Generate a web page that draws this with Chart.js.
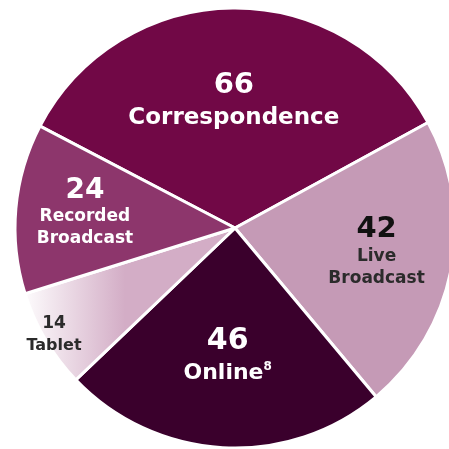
<!DOCTYPE html>
<html>
<head>
<meta charset="utf-8">
<script src="https://cdn.jsdelivr.net/npm/chart.js@4/dist/chart.umd.min.js"></script>
<style>
  html, body { margin: 0; padding: 0; background: #ffffff; }
  #wrap { width: 449px; height: 449px; }
</style>
</head>
<body>
<div id="wrap"><canvas id="pie" width="449" height="449"></canvas></div>
<script>
// Delivery channels and their counts
const categories = ['Correspondence', 'Live Broadcast', 'Online', 'Tablet', 'Recorded Broadcast'];
const counts = [66, 42, 46, 14, 24];
// Label text drawn on each slice (name split over lines, optional footnote mark)
const nameLines = [['Correspondence'], ['Live', 'Broadcast'], ['Online'], ['Tablet'], ['Recorded', 'Broadcast']];
const footnotes = ['', '', '8', '', ''];

const sliceColors = ['#710846', '#c59ab6', '#3a002c', null, '#8d366c'];

const FAMILY = '"DejaVu Sans"';
// Per-slice label styling: distance from centre (fraction of radius), fonts, colours, line offsets
const labelStyle = [
  { dist: 0.575, numFont: `bold 29px ${FAMILY}`, nameFont: `bold 23px ${FAMILY}`, numColor: '#ffffff', nameColor: '#ffffff', offsets: [-16, 17] },
  { dist: 0.655, numFont: `bold 29px ${FAMILY}`, nameFont: `bold 17px ${FAMILY}`, numColor: '#111111', nameColor: '#2b2b2b', offsets: [-25, 2, 24] },
  { dist: 0.59,  numFont: `bold 30px ${FAMILY}`, nameFont: `bold 22px ${FAMILY}`, numColor: '#ffffff', nameColor: '#ffffff', offsets: [-16, 16] },
  { dist: 0.955, numFont: `bold 17px ${FAMILY}`, nameFont: `bold 16px ${FAMILY}`, numColor: '#2b2b2b', nameColor: '#2b2b2b', offsets: [-11, 11] },
  { dist: 0.685, numFont: `bold 28px ${FAMILY}`, nameFont: `bold 17px ${FAMILY}`, numColor: '#ffffff', nameColor: '#ffffff', offsets: [-24, 2, 24] }
];

function tabletFill(ctx) {
  const chart = ctx.chart;
  if (!chart.chartArea) return '#d3adc6';
  const g = chart.ctx.createLinearGradient(20, 0, 125, 0);
  g.addColorStop(0, '#ffffff');
  g.addColorStop(1, '#d3adc6');
  return g;
}

const sliceLabels = {
  id: 'sliceLabels',
  afterDatasetsDraw(chart) {
    const c = chart.ctx;
    const meta = chart.getDatasetMeta(0);
    meta.data.forEach((arc, i) => {
      const st = labelStyle[i];
      const mid = (arc.startAngle + arc.endAngle) / 2;
      const r = arc.outerRadius * st.dist;
      const cx = arc.x + Math.cos(mid) * r;
      const cy = arc.y + Math.sin(mid) * r;
      c.save();
      c.textAlign = 'center';
      c.textBaseline = 'middle';
      c.font = st.numFont;
      c.fillStyle = st.numColor;
      c.fillText(String(counts[i]), cx, cy + st.offsets[0]);
      c.fillStyle = st.nameColor;
      nameLines[i].forEach((line, k) => {
        const y = cy + st.offsets[k + 1];
        c.font = st.nameFont;
        if (footnotes[i]) {
          const w = c.measureText(line).width;
          const supFont = `600 12px ${FAMILY}`;
          c.font = supFont;
          const sw = c.measureText(footnotes[i]).width;
          const x0 = cx - (w + sw) / 2;
          c.textAlign = 'left';
          c.font = st.nameFont;
          c.fillText(line, x0, y);
          c.font = supFont;
          c.fillText(footnotes[i], x0 + w, y - 7);
        } else {
          c.fillText(line, cx, y);
        }
      });
      c.restore();
    });
  }
};

new Chart(document.getElementById('pie'), {
  type: 'pie',
  data: {
    labels: categories,
    datasets: [{
      data: counts,
      backgroundColor: (ctx) => ctx.dataIndex === 3 ? tabletFill(ctx) : sliceColors[ctx.dataIndex],
      borderColor: '#ffffff',
      borderWidth: 3,
      hoverOffset: 0
    }]
  },
  options: {
    responsive: false,
    animation: false,
    rotation: -62.4,
    radius: 220,
    layout: { padding: { left: 21, top: 7, right: 0, bottom: 0 } },
    plugins: {
      legend: { display: false },
      tooltip: { enabled: false }
    },
    events: []
  },
  plugins: [sliceLabels]
});
</script>
</body>
</html>
